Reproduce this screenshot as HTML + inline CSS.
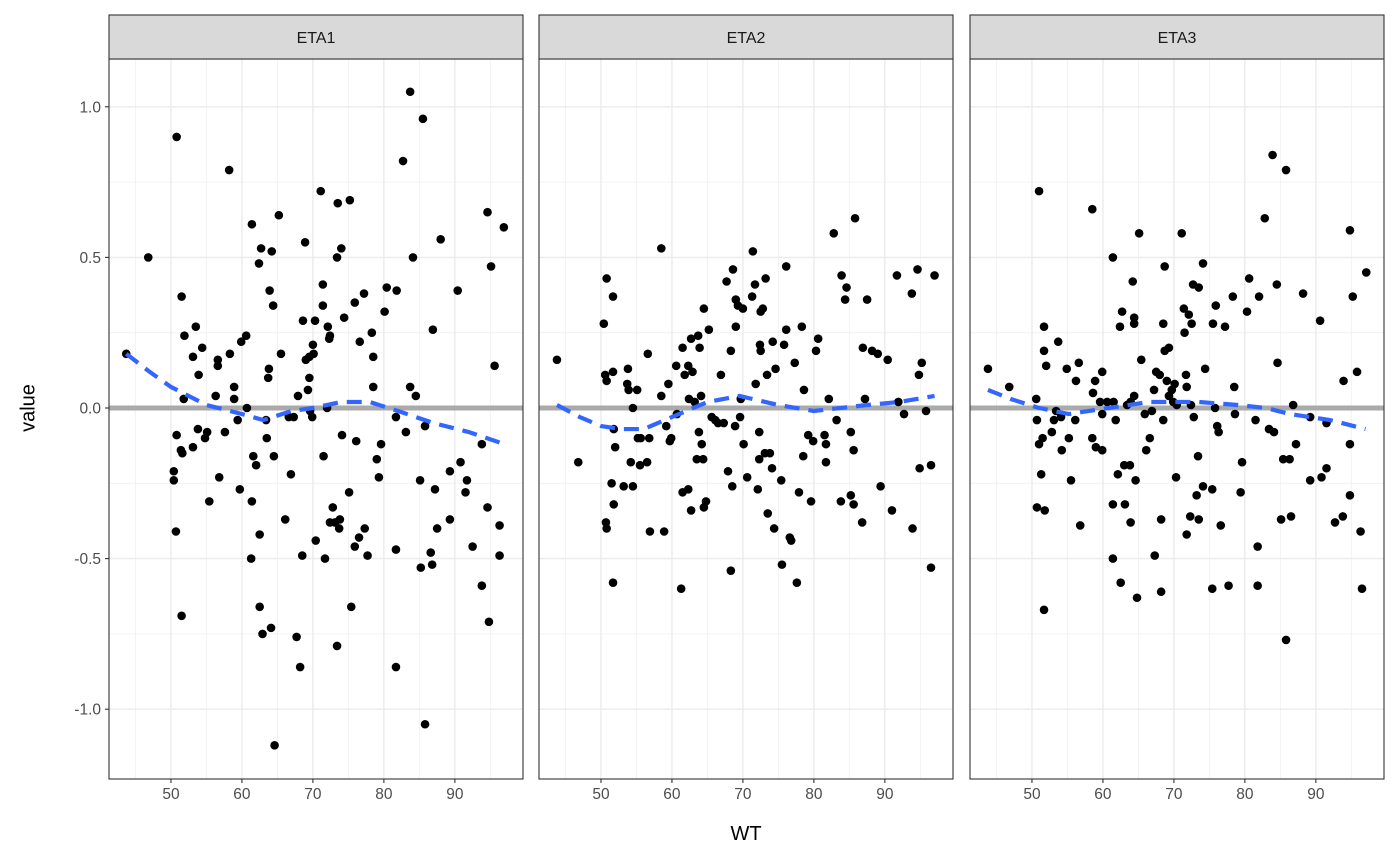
<!DOCTYPE html>
<html><head><meta charset="utf-8"><style>
html,body{margin:0;padding:0;background:#fff;}
svg{display:block;font-family:"Liberation Sans",sans-serif;}
</style></head><body>
<svg id="chart" width="1400" height="865" viewBox="0 0 1400 865" xmlns="http://www.w3.org/2000/svg">
<text x="29" y="408" font-size="20" fill="#000" text-anchor="middle" dominant-baseline="middle" transform="rotate(-90 29 408)">value</text>
<text x="746" y="840" font-size="20" fill="#000" text-anchor="middle">WT</text>
</svg>
<script>
const panelNames=["ETA1","ETA2","ETA3"];
const xTicks=[50,60,70,80,90];
const yTicks=[-1.0,-0.5,0.0,0.5,1.0];
const yTickLabels=["-1.0","-0.5","0.0","0.5","1.0"];
const data1=[[43.7,0.18],[46.8,0.5],[50.8,0.9],[51.5,0.37],[51.9,0.24],[50.4,-0.21],[50.4,-0.24],[50.7,-0.41],[51.5,-0.69],[50.8,-0.09],[51.4,-0.14],[51.6,-0.15],[51.8,0.03],[53.1,0.17],[53.5,0.27],[53.9,0.11],[54.4,0.2],[53.1,-0.13],[53.8,-0.07],[54.8,-0.1],[55.1,-0.08],[55.4,-0.31],[56.3,0.04],[56.6,0.16],[56.6,0.14],[56.8,-0.23],[57.6,-0.08],[58.2,0.79],[58.3,0.18],[58.9,0.07],[58.9,0.03],[59.4,-0.04],[59.9,0.22],[59.7,-0.27],[60.6,0.24],[60.7,0],[61.4,0.61],[61.4,-0.31],[61.3,-0.5],[61.6,-0.16],[62,-0.19],[62.4,0.48],[62.7,0.53],[62.5,-0.42],[62.5,-0.66],[62.9,-0.75],[63.4,-0.04],[63.5,-0.1],[63.7,0.1],[63.8,0.13],[63.9,0.39],[64.2,0.52],[64.4,0.34],[64.1,-0.73],[64.5,-0.16],[64.6,-1.12],[65.2,0.64],[65.5,0.18],[66.1,-0.37],[66.6,-0.03],[66.9,-0.22],[67.3,-0.03],[67.7,-0.76],[67.9,0.04],[68.2,-0.86],[68.5,-0.49],[68.6,0.29],[68.9,0.55],[69,0.16],[69.3,0.06],[69.5,0.1],[69.5,0.17],[69.6,-0.01],[69.9,-0.03],[70,0.21],[70.1,0.18],[70.3,0.29],[70.4,-0.44],[71.1,0.72],[71.4,0.41],[71.4,0.34],[71.5,-0.16],[71.7,-0.5],[72,0],[72.1,0.27],[72.3,0.23],[72.4,0.24],[72.4,-0.38],[72.8,-0.33],[73.1,-0.38],[73.4,0.5],[73.5,0.68],[73.4,-0.79],[73.7,-0.4],[73.8,-0.37],[74,0.53],[74.1,-0.09],[74.4,0.3],[75.1,-0.28],[75.2,0.69],[75.4,-0.66],[75.9,0.35],[75.9,-0.46],[76.1,-0.11],[76.5,-0.43],[76.6,0.22],[77.2,0.38],[77.3,-0.4],[77.7,-0.49],[78.3,0.25],[78.5,0.17],[78.5,0.07],[79,-0.17],[79.3,-0.23],[79.6,-0.12],[80.1,0.32],[80.4,0.4],[81.8,0.39],[81.7,-0.03],[81.7,-0.47],[81.7,-0.86],[82.7,0.82],[83.1,-0.08],[83.7,1.05],[83.7,0.07],[84.1,0.5],[84.5,0.04],[85.1,-0.24],[85.2,-0.53],[85.5,0.96],[85.8,-1.05],[85.8,-0.06],[86.6,-0.48],[86.8,-0.52],[86.9,0.26],[87.2,-0.27],[87.5,-0.4],[88,0.56],[89.3,-0.21],[89.3,-0.37],[90.4,0.39],[90.8,-0.18],[91.5,-0.28],[91.7,-0.24],[92.5,-0.46],[93.8,-0.12],[93.8,-0.59],[94.6,0.65],[94.6,-0.33],[94.8,-0.71],[95.1,0.47],[95.6,0.14],[96.3,-0.39],[96.3,-0.49],[96.9,0.6]];
const data2=[[43.8,0.16],[46.8,-0.18],[50.4,0.28],[50.8,0.43],[50.6,0.11],[50.8,0.09],[50.7,-0.38],[50.8,-0.4],[51.7,0.37],[51.7,0.12],[51.5,-0.25],[51.8,-0.07],[52,-0.13],[51.8,-0.32],[51.7,-0.58],[53.2,-0.26],[53.7,0.08],[53.8,0.13],[53.9,0.06],[54.2,-0.18],[54.5,-0.26],[54.5,0],[55.1,0.06],[55.2,-0.1],[55.5,-0.19],[55.6,-0.1],[56.5,-0.18],[56.6,0.18],[56.8,-0.1],[56.9,-0.41],[58.5,0.53],[58.5,0.04],[58.9,-0.41],[59.2,-0.06],[59.5,0.08],[59.7,-0.11],[59.9,-0.1],[60.6,0.14],[60.7,-0.02],[61.3,-0.6],[61.5,0.2],[61.5,-0.28],[61.8,0.11],[62.3,0.14],[62.3,-0.27],[62.4,0.03],[62.7,-0.34],[62.7,0.23],[62.9,0.12],[63.2,0.02],[63.5,-0.17],[63.7,0.24],[63.8,-0.08],[63.9,0.2],[64.1,0.04],[64.2,-0.12],[64.4,-0.17],[64.5,0.33],[64.5,-0.33],[64.8,-0.31],[65.2,0.26],[65.6,-0.03],[66.1,-0.04],[66.5,-0.05],[66.9,0.11],[67.3,-0.05],[67.7,0.42],[67.9,-0.21],[68.3,0.19],[68.3,-0.54],[68.6,0.46],[68.5,-0.26],[68.9,-0.06],[69,0.27],[69,0.36],[69.3,0.34],[69.6,-0.03],[69.7,0.03],[70,0.33],[70.1,-0.12],[70.6,-0.23],[71.3,0.37],[71.4,0.52],[71.7,0.41],[71.8,0.08],[72.1,-0.27],[72.3,-0.08],[72.3,-0.17],[72.4,0.21],[72.5,0.32],[72.5,0.19],[72.8,0.33],[73.1,-0.15],[73.2,0.43],[73.4,0.11],[73.5,-0.35],[73.8,-0.15],[74.1,-0.2],[74.2,0.22],[74.4,-0.4],[74.6,0.13],[75.4,-0.24],[75.5,-0.52],[75.8,0.21],[76.1,0.26],[76.1,0.47],[76.6,-0.43],[76.8,-0.44],[77.3,0.15],[77.6,-0.58],[77.9,-0.28],[78.3,0.27],[78.5,-0.16],[78.6,0.06],[79.2,-0.09],[79.6,-0.31],[79.9,-0.11],[80.3,0.19],[80.6,0.23],[81.5,-0.09],[81.7,-0.18],[81.7,-0.12],[82.1,0.03],[82.8,0.58],[83.2,-0.04],[83.8,-0.31],[83.9,0.44],[84.4,0.36],[84.6,0.4],[85.2,-0.08],[85.2,-0.29],[85.6,-0.14],[85.6,-0.32],[85.8,0.63],[86.8,-0.38],[86.9,0.2],[87.2,0.03],[87.5,0.36],[88.2,0.19],[89,0.18],[89.4,-0.26],[90.4,0.16],[91,-0.34],[91.7,0.44],[91.9,0.02],[92.7,-0.02],[93.8,0.38],[93.9,-0.4],[94.6,0.46],[94.8,0.11],[94.9,-0.2],[95.2,0.15],[95.8,-0.01],[96.5,-0.19],[96.5,-0.53],[97,0.44]];
const data3=[[43.8,0.13],[46.8,0.07],[50.6,0.03],[51,0.72],[50.7,-0.04],[51,-0.12],[51.3,-0.22],[50.7,-0.33],[51.7,0.27],[51.7,0.19],[52,0.14],[51.7,-0.67],[51.8,-0.34],[51.5,-0.1],[52.8,-0.08],[53.1,-0.04],[53.4,-0.01],[53.7,0.22],[54.1,-0.03],[54.2,-0.14],[54.9,0.13],[55.2,-0.1],[55.5,-0.24],[56.1,-0.04],[56.2,0.09],[56.6,0.15],[56.8,-0.39],[58.5,0.66],[58.5,-0.1],[58.6,0.05],[58.9,0.09],[59,-0.13],[59.6,0.02],[59.9,0.12],[59.9,-0.14],[59.9,-0.02],[60.6,0.02],[61.4,0.5],[61.4,-0.32],[61.4,-0.5],[61.5,0.02],[61.8,-0.04],[62.1,-0.22],[62.4,0.27],[62.5,-0.58],[62.7,0.32],[63,-0.19],[63.1,-0.32],[63.4,0.01],[63.8,-0.19],[63.9,0.02],[63.9,-0.38],[64.2,0.42],[64.4,0.3],[64.4,0.28],[64.4,0.04],[64.6,-0.24],[64.8,-0.63],[65.1,0.58],[65.4,0.16],[65.9,-0.02],[66.1,-0.14],[66.6,-0.1],[66.9,-0.01],[67.2,0.06],[67.3,-0.49],[67.5,0.12],[68,0.11],[68.2,-0.37],[68.2,-0.61],[68.5,0.28],[68.5,-0.04],[68.7,0.47],[68.7,0.19],[69,0.09],[69.3,0.2],[69.3,0.04],[69.7,0.06],[69.9,0.02],[70.1,0.08],[70.3,-0.23],[70.4,0.01],[71.1,0.58],[71.4,0.33],[71.5,0.25],[71.7,0.11],[71.8,0.07],[71.8,-0.42],[72.1,0.31],[72.3,-0.36],[72.4,0.01],[72.5,0.28],[72.7,0.41],[72.8,-0.03],[73.2,-0.29],[73.4,-0.16],[73.5,0.4],[73.5,-0.37],[74.1,0.48],[74.1,-0.26],[74.4,0.13],[75.4,-0.27],[75.4,-0.6],[75.5,0.28],[75.8,0],[75.9,0.34],[76.1,-0.06],[76.3,-0.08],[76.6,-0.39],[77.2,0.27],[77.7,-0.59],[78.3,0.37],[78.5,0.07],[78.6,-0.02],[79.4,-0.28],[79.6,-0.18],[80.3,0.32],[80.6,0.43],[81.5,-0.04],[81.8,-0.46],[81.8,-0.59],[82,0.37],[82.8,0.63],[83.4,-0.07],[83.9,0.84],[84.1,-0.08],[84.5,0.41],[84.6,0.15],[85.1,-0.37],[85.4,-0.17],[85.8,0.79],[85.8,-0.77],[86.3,-0.17],[86.5,-0.36],[86.8,0.01],[87.2,-0.12],[88.2,0.38],[89.2,-0.03],[89.2,-0.24],[90.6,0.29],[90.8,-0.23],[91.5,-0.2],[91.5,-0.05],[92.7,-0.38],[93.8,-0.36],[93.9,0.09],[94.8,0.59],[94.8,-0.12],[94.8,-0.29],[95.2,0.37],[95.8,0.12],[96.3,-0.41],[96.5,-0.6],[97.1,0.45]];
const smooth1=[[43.7,0.18],[47,0.12],[50,0.07],[55,0.01],[60,-0.02],[63,-0.04],[67,-0.01],[70,0.0],[74,0.02],[78,0.02],[82,-0.01],[87,-0.05],[92,-0.08],[97,-0.12]];
const smooth2=[[43.8,0.01],[47,-0.03],[50,-0.06],[53,-0.07],[56,-0.07],[59,-0.04],[62,-0.01],[65,0.02],[69.5,0.04],[75,0.01],[80,-0.01],[87.5,0.01],[92,0.02],[97,0.04]];
const smooth3=[[43.8,0.06],[47,0.03],[51,0.0],[55.2,-0.02],[60.8,0.0],[66.5,0.02],[73.5,0.02],[79,0.01],[83,0.0],[86.3,-0.02],[92,-0.04],[97,-0.07]];
const panelData=[data1,data2,data3];
const panelSmooth=[smooth1,smooth2,smooth3];
const NS="http://www.w3.org/2000/svg";
const svg=document.getElementById('chart');
const panelLeft=[109,539,970], panelW=414, pTop=59, pBot=779;
const xMin=41.27, xMax=99.6;
function xs(i,v){return panelLeft[i]+(v-xMin)/(xMax-xMin)*panelW;}
function ys(v){return 408-v*301.2;}
function mk(tag,attrs){const e=document.createElementNS(NS,tag);for(const k in attrs)e.setAttribute(k,attrs[k]);svg.appendChild(e);return e;}
panelNames.forEach((nm,i)=>{
  const L=panelLeft[i], R=L+panelW;
  const bg=mk('rect',{x:L,y:pTop,width:panelW,height:pBot-pTop,fill:'#fff'});
  
  
  [-0.75,-0.25,0.25,0.75].forEach(v=>{const l=mk('line',{x1:L,x2:R,y1:ys(v),y2:ys(v),stroke:'#f0f0f0','stroke-width':0.8});
    
    });
  [45,55,65,75,85,95].forEach(v=>{const l=mk('line',{x1:xs(i,v),x2:xs(i,v),y1:pTop,y2:pBot,stroke:'#f0f0f0','stroke-width':0.8});
    
    });
  yTicks.forEach(v=>{const l=mk('line',{x1:L,x2:R,y1:ys(v),y2:ys(v),stroke:'#ebebeb','stroke-width':1.4});
    
    });
  xTicks.forEach(v=>{const l=mk('line',{x1:xs(i,v),x2:xs(i,v),y1:pTop,y2:pBot,stroke:'#ebebeb','stroke-width':1.4});
    
    });
  const zl=mk('line',{x1:L,x2:R,y1:ys(0),y2:ys(0),stroke:'#aaaaaa','stroke-width':5});
  
  
  panelData[i].forEach(p=>{const c=mk('circle',{cx:xs(i,p[0]),cy:ys(p[1]),r:4.3,fill:'#000'});
    
    });
  const sm=mk('polyline',{points:panelSmooth[i].map(p=>xs(i,p[0])+','+ys(p[1])).join(' '),fill:'none',stroke:'#3366FF','stroke-width':4.2,'stroke-dasharray':'15 9'});
  
  
  const bd=mk('rect',{x:L,y:pTop,width:panelW,height:pBot-pTop,fill:'none',stroke:'#333','stroke-width':1.1});
  
  
  const st=mk('rect',{x:L,y:15,width:panelW,height:44,fill:'#d9d9d9',stroke:'#333','stroke-width':1.1});
  
  
  const stt=mk('text',{x:L+panelW/2,y:43,'font-size':16,fill:'#1a1a1a','text-anchor':'middle'});
  stt.textContent=nm;
  
  
  xTicks.forEach(v=>{
    const t=mk('line',{x1:xs(i,v),x2:xs(i,v),y1:pBot,y2:pBot+4,stroke:'#333','stroke-width':1.1});
    
    
    const tl=mk('text',{x:xs(i,v),y:pBot+20,'font-size':15.5,fill:'#4d4d4d','text-anchor':'middle'});
    tl.textContent=v;
    
    
  });
});
yTicks.forEach((v,j)=>{
  const t=mk('line',{x1:105,x2:109,y1:ys(v),y2:ys(v),stroke:'#333','stroke-width':1.1});
  
  
  const tl=mk('text',{x:101,y:ys(v)+5.5,'font-size':15.5,fill:'#4d4d4d','text-anchor':'end'});
  tl.textContent=yTickLabels[j];
  
  
});
</script>
</body></html>
